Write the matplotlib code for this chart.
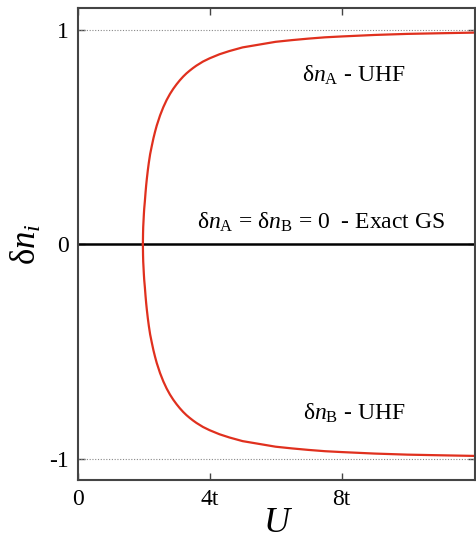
import numpy as np
import matplotlib
matplotlib.use("Agg")
import matplotlib.pyplot as plt

plt.rcParams['font.family'] = 'Liberation Serif'
plt.rcParams['mathtext.fontset'] = 'custom'
plt.rcParams['mathtext.rm'] = 'Liberation Serif'
plt.rcParams['mathtext.it'] = 'Liberation Serif:italic'

# UHF polarisation (upper branch, lower is the mirror)
U_vals = [1.98, 1.985, 1.99, 2.0, 2.01, 2.02, 2.04, 2.06, 2.08, 2.1, 2.13,
          2.16, 2.2, 2.25, 2.3, 2.35, 2.4, 2.5, 2.6, 2.7, 2.8, 2.9, 3.0, 3.1,
          3.2, 3.3, 3.4, 3.5, 3.6, 3.8, 4.0, 4.3, 4.6, 5.0, 5.5, 6.0, 6.5,
          7.0, 7.5, 8.0, 9.0, 10.0, 11.0, 12.05]
dn_A = [0.0, 0.05, 0.08, 0.11, 0.14, 0.165, 0.20, 0.24, 0.275, 0.305, 0.345,
        0.38, 0.42, 0.458, 0.494, 0.525, 0.553, 0.60, 0.639, 0.672, 0.70,
        0.724, 0.745, 0.764, 0.781, 0.796, 0.809, 0.821, 0.832, 0.851,
        0.866, 0.885, 0.90, 0.917, 0.93, 0.943, 0.951, 0.958, 0.964, 0.968,
        0.975, 0.98, 0.983, 0.986]
dn_B = [-v for v in dn_A]

x_ticks = [0, 4, 8]
x_labels = ['0', '4t', '8t']
y_ticks = [-1, 0, 1]
y_labels = ['-1', '0', '1']

fig = plt.figure(figsize=(4.77, 5.41), dpi=100)
ax = fig.add_axes([0.1625, 0.112, 0.834, 0.873])

ax.axhline(1, color='#888888', lw=0.8, ls=(0, (1, 1.5)))
ax.axhline(-1, color='#888888', lw=0.8, ls=(0, (1, 1.5)))
ax.axhline(0, color='black', lw=1.8)

ax.plot(U_vals, dn_A, color='#e0301e', lw=1.6)
ax.plot(U_vals, dn_B, color='#e0301e', lw=1.6)

ax.text(8.37, 0.786, r'δ$n_\mathrm{A}$ - UHF', fontsize=17,
        ha='center', va='center')
ax.text(8.37, -0.786, r'δ$n_\mathrm{B}$ - UHF', fontsize=17,
        ha='center', va='center')
ax.text(7.37, 0.10, r'δ$n_\mathrm{A}$ = δ$n_\mathrm{B}$ = 0  - Exact GS',
        fontsize=17, ha='center', va='center')

ax.set_xlim(0, 12.05)
ax.set_ylim(-1.1, 1.1)
ax.set_xticks(x_ticks)
ax.set_xticklabels(x_labels)
ax.set_yticks(y_ticks)
ax.set_yticklabels(y_labels)
ax.tick_params(direction='in', length=5, width=1, color='#444444',
               top=True, right=True, labelsize=17, pad=6)

for s in ax.spines.values():
    s.set_color('#444444')
    s.set_linewidth(1.5)

ax.set_xlabel('U', fontsize=26, fontstyle='italic', labelpad=-2)
ax.set_ylabel(r'δ$n_i$', fontsize=25, labelpad=4)

fig.savefig('out.png', dpi=100)
